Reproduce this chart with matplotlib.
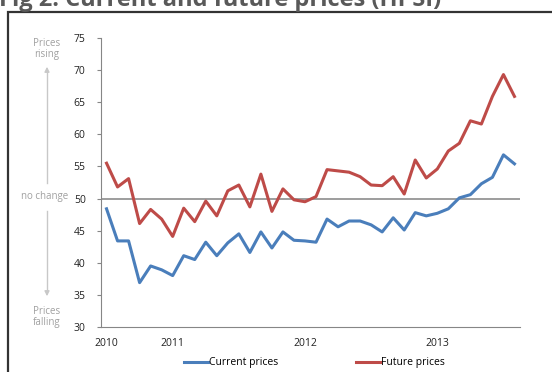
import matplotlib.pyplot as plt
from matplotlib.patches import Rectangle

plt.rcParams['font.family'] = ['Open Sans', 'DejaVu Sans']

# monthly, Jul 2010 - Aug 2013
current = [48.4, 43.4, 43.4, 36.9, 39.5, 38.9, 38.0, 41.1, 40.5, 43.2,
           41.1, 43.1, 44.5, 41.6, 44.8, 42.3, 44.8, 43.5, 43.4, 43.2,
           46.8, 45.6, 46.5, 46.5, 45.9, 44.8, 47.0, 45.1, 47.8, 47.3,
           47.7, 48.4, 50.1, 50.6, 52.3, 53.3, 56.8, 55.4]
future = [55.5, 51.8, 53.1, 46.1, 48.3, 46.8, 44.1, 48.5, 46.4, 49.6,
          47.3, 51.2, 52.1, 48.7, 53.8, 48.0, 51.5, 49.8, 49.5, 50.3,
          54.5, 54.3, 54.1, 53.4, 52.1, 52.0, 53.4, 50.7, 56.0, 53.2,
          54.6, 57.4, 58.6, 62.1, 61.6, 65.9, 69.3, 65.9]
year_pos = [0, 6, 18, 30]
year_labels = ['2010', '2011', '2012', '2013']

x = list(range(len(current)))

fig = plt.figure(figsize=(5.52, 3.72), dpi=100)
ax = fig.add_axes([0.183, 0.121, 0.759, 0.777])

ax.axhline(50, color='#8c8c8c', lw=1.2, zorder=1)
ax.plot(x, current, color='#4a7ebb', lw=2.2, label='Current prices', zorder=3)
ax.plot(x, future, color='#be4b48', lw=2.2, label='Future prices', zorder=3)

ax.set_xlim(-0.5, 37.5)
ax.set_ylim(30, 75)
ax.set_yticks(range(30, 80, 5))
ax.set_xticks(year_pos)
ax.set_xticklabels(year_labels)
ax.tick_params(axis='x', length=0, pad=8, labelsize=7.5, colors='#222222')
ax.tick_params(axis='y', length=3, pad=8, labelsize=7.5, color='#868686',
               labelcolor='#222222')

axs = plt.gca()
axs.spines['right'].set_visible(False)
axs.spines['top'].set_visible(False)
axs.spines['left'].set_color('#868686')
axs.spines['bottom'].set_color('#868686')

# side notes
grey = '#a0a0a0'
fig.text(47 / 552, 1 - 49 / 372, 'Prices\nrising', ha='center', va='center',
         fontsize=7, color=grey, linespacing=1.1)
fig.text(47 / 552, 1 - 317 / 372, 'Prices\nfalling', ha='center', va='center',
         fontsize=7, color=grey, linespacing=1.1)
fig.text(45 / 552, 1 - 197 / 372, 'no change', ha='center', va='center',
         fontsize=7, color=grey)
fig.add_artist(plt.Line2D([47 / 552, 47 / 552], [1 - 183 / 372, 1 - 72 / 372],
                          color='#c8c8c8', lw=1))
ax.annotate('', xy=(47 / 552, 1 - 64 / 372), xytext=(47 / 552, 1 - 74 / 372),
            xycoords='figure fraction',
            arrowprops=dict(arrowstyle='-|>', color='#c8c8c8', lw=1,
                            mutation_scale=7))
fig.add_artist(plt.Line2D([47 / 552, 47 / 552], [1 - 211 / 372, 1 - 290 / 372],
                          color='#c8c8c8', lw=1))
ax.annotate('', xy=(47 / 552, 1 - 299 / 372), xytext=(47 / 552, 1 - 289 / 372),
            xycoords='figure fraction',
            arrowprops=dict(arrowstyle='-|>', color='#c8c8c8', lw=1,
                            mutation_scale=7))

# frame and title
fig.add_artist(Rectangle((8 / 552, -0.1), 1.2, 1.1 - 12 / 372,
                         transform=fig.transFigure, fill=False,
                         edgecolor='#333333', lw=1.6))
fig.text(-0.002, 1 - 6 / 372, 'Fig 2: Current and future prices (HPSI)',
         ha='left', va='baseline', fontsize=17, fontweight='bold',
         color='#595959')

fig.legend(loc='center', bbox_to_anchor=(0.57, 1 - 363 / 372), ncol=2,
           frameon=False, fontsize=7.5, handlelength=2.3, handletextpad=0.1,
           columnspacing=7.5)

plt.savefig('out.png', dpi=100)
